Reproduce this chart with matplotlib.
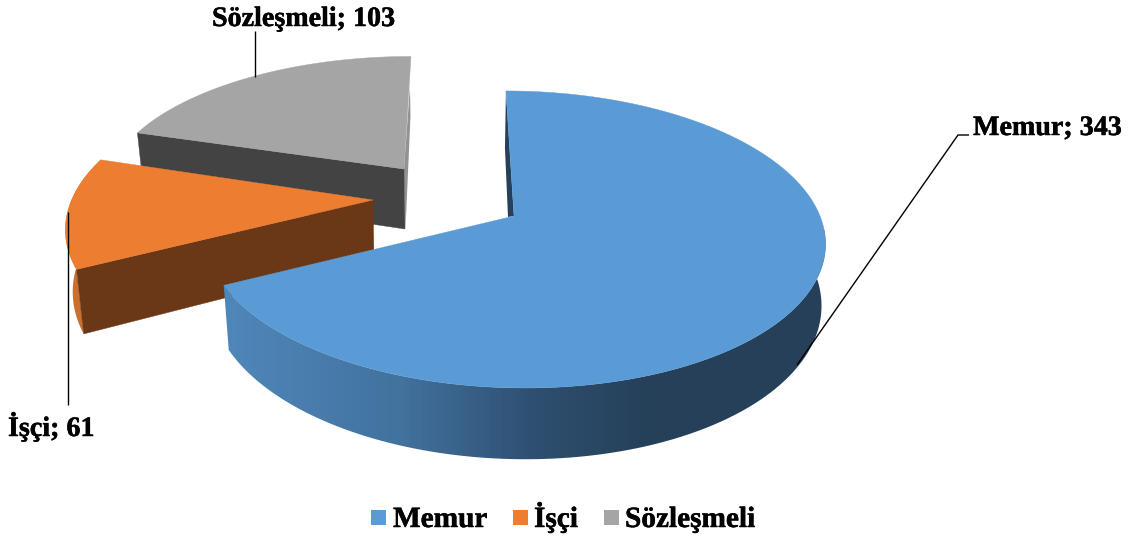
import numpy as np
import matplotlib
matplotlib.use("Agg")
import matplotlib.pyplot as plt
import matplotlib.patheffects as pe
from matplotlib.colors import LinearSegmentedColormap
from matplotlib.patches import Polygon, Rectangle

categories = ["Memur", "İşçi", "Sözleşmeli"]
values = [343, 61, 103]

top_colors = ["#5b9bd5", "#ed7d31", "#a5a5a5"]
face_colors = ["#254058", "#6b3817", "#434343"]
wall_colors = [None, "#cc6f2b", "#929292"]

W, H = 1132, 538
fig = plt.figure(figsize=(W / 100, H / 100), dpi=100, facecolor="white")
ax = fig.add_axes([0, 0, 1, 1])

# Perspective model of the pie (layout, in pixels)
VX, A, B, K = 455.0, 306.0, 144.8, 0.158
DEPTH, XSHRINK, XCENTER = 60.0, 0.985, 556.0
# apex x, apex y, x scale, y scale for each exploded slice
slices_geo = [(514, 216, 1.0, 1.0), (373, 200, 0.985, 1.0), (404, 169, 0.96, 0.90)]


def project(theta, geo):
    cx, cy, sx, sy = geo
    X, Y = np.sin(theta), np.cos(theta)
    w = 1 + K * Y
    return VX + (cx - VX + A * sx * X) / w, cy - B * sy * Y / w, w


def lower(x, y, w):
    return XCENTER + (x - XCENTER) * XSHRINK, y + DEPTH / w


angles = np.radians(np.concatenate([[0], np.cumsum(values)]) / np.sum(values) * 360)

for i in [2, 1, 0]:
    geo = slices_geo[i]
    base = (2 - i) * 10
    t0, t1 = angles[i], angles[i + 1]
    apex = (float(geo[0]), float(geo[1]))
    ap_low = lower(apex[0], apex[1], 1.0)

    th = np.linspace(t0, t1, 400)
    px, py, pw = project(th, geo)
    lx, ly = lower(px, py, pw)
    wall = np.column_stack([np.r_[px, lx[::-1]], np.r_[py, ly[::-1]]])

    if i == 0:
        # outer wall with a left-to-right shading gradient
        stops = np.array([210, 400, 530, 650, 830])
        cols = ["#5089bd", "#42729e", "#2f5072", "#254058", "#254058"]
        cmap = LinearSegmentedColormap.from_list(
            "wall", list(zip((stops - stops[0]) / (stops[-1] - stops[0]), cols)))
        im = ax.imshow(np.linspace(0, 1, 620)[None, :], cmap=cmap, aspect="auto",
                       extent=(stops[0], stops[-1], 480, 230), zorder=base + 10)
        im.set_clip_path(Polygon(wall, closed=True, transform=ax.transData))
        # thin inner wall at the start angle, seen beside the first edge
        xs, ys, ws = project(t0, geo)
        ax.add_patch(Polygon([(xs, ys), (xs - 1, ys + 57), (apex[0] - 6, apex[1] + 1), apex],
                             closed=True, fc=face_colors[0], ec="none", zorder=base + 11))
    else:
        if i == 1:
            ax.add_patch(Polygon(wall, closed=True, fc=wall_colors[i], ec="none", zorder=base + 10))
        xs, ys, ws = project(t0, geo)
        sl = lower(xs, ys, ws)
        low = (apex[0] + 1.0, ap_low[1])
        ax.add_patch(Polygon([(xs, ys), sl, low, apex], closed=True, fc=face_colors[i],
                             ec=face_colors[i], lw=0.3, zorder=base + 12))
        if i == 2:
            # narrow lit wall along the closing edge at twelve o'clock
            xn, yn, wn = project(t1, geo)
            ax.add_patch(Polygon([(xn - 1, yn + 30), (xn - 0.5, yn + 60), (apex[0] + 1.5, ap_low[1]), apex],
                                 closed=True, fc=wall_colors[2], ec="none", zorder=base + 11))

    outline = [apex] + list(zip(px, py))
    ax.add_patch(Polygon(outline, closed=True, fc=top_colors[i], ec=top_colors[i], lw=0.3,
                         zorder=base + 15))

# leader lines
line_kw = dict(color="black", lw=1.0, zorder=50, solid_capstyle="butt")
ax.plot([797, 958, 969], [365, 135, 135], **line_kw)
ax.plot([67.5, 67.5], [212, 405], **line_kw)
ax.plot([255, 255], [31, 77], **line_kw)

# text
font = dict(family="Liberation Serif", fontweight="bold", color="black",
            va="baseline", ha="left", zorder=60,
            path_effects=[pe.withStroke(linewidth=0.35, foreground="black")])
label_pos = [(973, 135), (8, 436), (212, 26)]
for cat, val, (tx, ty) in zip(categories, values, label_pos):
    ax.text(tx, ty, f"{cat}; {val}", fontsize=20.2, **font)

# legend
legend_swatch_x = [371, 513, 604]
legend_text_x = [393, 534, 625]
for cat, col, sx, tx in zip(categories, top_colors, legend_swatch_x, legend_text_x):
    ax.add_patch(Rectangle((sx, 510), 15, 15, fc=col, ec="none", zorder=60))
    ax.text(tx, 527, cat, fontsize=21.1, **font)

ax.set_xlim(0, W)
ax.set_ylim(H, 0)
ax.axis("off")

fig.savefig("out.png", dpi=100, facecolor="white")
